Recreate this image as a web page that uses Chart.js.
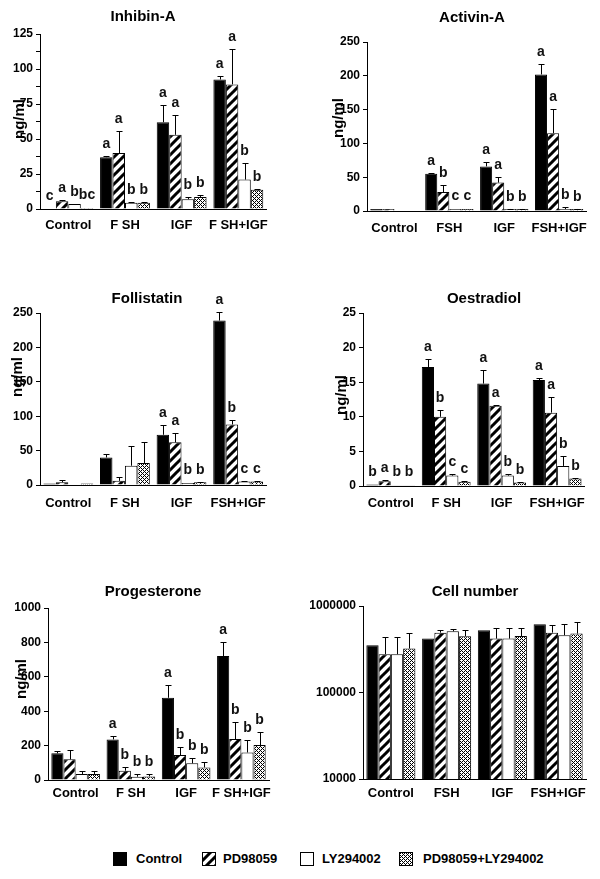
<!DOCTYPE html>
<html>
<head>
<meta charset="utf-8">
<script src="https://cdn.jsdelivr.net/npm/chart.js@4.4.1/dist/chart.umd.min.js"></script>
<style>
body{margin:0;background:#fff;width:600px;height:879px;position:relative;overflow:hidden;font-family:"Liberation Sans",Arial,sans-serif;}
.panel{position:absolute;}
.swatch{position:absolute;top:852px;}
.leg{position:absolute;top:851px;font:bold 13px "Liberation Sans",Arial,sans-serif;color:#000;line-height:16px;}
</style>
</head>
<body>
<div id="charts"></div>
<canvas class="swatch" id="sw0" width="14" height="14" style="left:113px"></canvas><span class="leg" style="left:136px">Control</span>
<canvas class="swatch" id="sw1" width="14" height="14" style="left:202px"></canvas><span class="leg" style="left:223px">PD98059</span>
<canvas class="swatch" id="sw2" width="14" height="14" style="left:300px"></canvas><span class="leg" style="left:322px">LY294002</span>
<canvas class="swatch" id="sw3" width="14" height="14" style="left:399px"></canvas><span class="leg" style="left:423px">PD98059+LY294002</span>
<script>
// series order: Control, PD98059, LY294002, PD98059+LY294002
const treatments = ['Control', 'PD98059', 'LY294002', 'PD98059+LY294002'];

const inhibinGroups = ['Control', 'F SH', 'IGF', 'F SH+IGF'];
const inhibinMeans = [[0, 37, 62, 92.5], [5.5, 40, 53, 89], [3.5, 4.5, 7, 21], [0.7, 4.5, 8.6, 13.8]];
const inhibinErrors = [[0, 1.2, 12.5, 2.4], [1, 16, 14, 25], [0.3, 0.5, 1.6, 12], [0, 0.5, 1.6, 0.5]];
const inhibinLetters = [['c', 'a', 'a', 'a'], ['a', 'a', 'a', 'a'], ['b', 'b', 'b', 'b'], ['bc', 'b', 'b', 'b']];

const activinGroups = ['Control', 'FSH', 'IGF', 'FSH+IGF'];
const activinMeans = [[3, 55, 66, 202], [3, 28, 42, 115], [0, 3, 3, 3], [0, 3, 3, 3]];
const activinErrors = [[0, 1.5, 6, 15], [0, 10, 9, 36], [0, 0, 0.5, 3], [0, 0, 0.5, 0.5]];
const activinLetters = [['', 'a', 'a', 'a'], ['', 'b', 'a', 'a'], ['', 'c', 'b', 'b'], ['', 'c', 'b', 'b']];

const follistatinGroups = ['Control', 'F SH', 'IGF', 'FSH+IGF'];
const follistatinMeans = [[2, 40, 73, 239], [4, 6, 62, 88], [0, 28, 3, 5], [2, 32, 4, 5]];
const follistatinErrors = [[0, 5, 14, 12], [3, 5, 13, 6], [0, 29, 0, 1], [0, 30, 1, 1]];
const follistatinLetters = [['', '', 'a', 'a'], ['', '', 'a', 'b'], ['', '', 'b', 'c'], ['', '', 'b', 'c']];

const oestradiolGroups = ['Control', 'F SH', 'IGF', 'FSH+IGF'];
const oestradiolMeans = [[0.2, 17.2, 14.8, 15.3], [0.7, 10.0, 11.6, 10.6], [0.1, 1.5, 1.5, 2.9], [0.1, 0.6, 0.5, 1.1]];
const oestradiolErrors = [[0, 1.2, 1.9, 0.3], [0.1, 1.0, 0.1, 2.3], [0, 0.2, 0.2, 1.5], [0, 0.1, 0.1, 0.1]];
const oestradiolLetters = [['b', 'a', 'a', 'a'], ['a', 'b', 'a', 'a'], ['b', 'c', 'b', 'b'], ['b', 'c', 'b', 'b']];

const progesteroneGroups = ['Control', 'F SH', 'IGF', 'F SH+IGF'];
const progesteroneMeans = [[155, 236, 478, 721], [120, 54, 145, 238], [35, 19, 97, 160], [35, 21, 73, 203]];
const progesteroneErrors = [[15, 21, 77, 82], [54, 23, 48, 100], [15, 16, 33, 72], [20, 12, 33, 74]];
const progesteroneLetters = [['', 'a', 'a', 'a'], ['', 'b', 'b', 'b'], ['', 'b', 'b', 'b'], ['', 'b', 'b', 'b']];

const cellGroups = ['Control', 'FSH', 'IGF', 'FSH+IGF'];
const cellMeans = [[352000, 420000, 524000, 614000], [277000, 492000, 420000, 492000], [277000, 510000, 420000, 459000], [322000, 447000, 450000, 480000]];
const cellErrors = [[0, 0, 0, 0], [162000, 41000, 137000, 118000], [162000, 38000, 140000, 155000], [170000, 86000, 110000, 174000]];
const cellTicks = [10000, 100000, 1000000];

const FONT = '"Liberation Sans", Arial, sans-serif';

function hatchPattern(ctx) {
    const s = 9;
    const c = document.createElement('canvas');
    c.width = s; c.height = s;
    const g = c.getContext('2d');
    g.fillStyle = '#fff';
    g.fillRect(0, 0, s, s);
    g.strokeStyle = '#000';
    g.lineWidth = 3;
    g.beginPath();
    g.moveTo(-1, s + 1); g.lineTo(s + 1, -1);
    g.moveTo(-1, 1); g.lineTo(1, -1);
    g.moveTo(s - 1, s + 1); g.lineTo(s + 1, s - 1);
    g.stroke();
    return ctx.createPattern(c, 'repeat');
}

function checkPattern(ctx) {
    const c = document.createElement('canvas');
    c.width = 4; c.height = 4;
    const g = c.getContext('2d');
    g.fillStyle = '#fff';
    g.fillRect(0, 0, 4, 4);
    g.fillStyle = '#000';
    for (let y = 0; y < 4; y++) {
        for (let x = 0; x < 4; x++) {
            if ((x + y) % 2 === 0 && !(x === 0 && y === 0) && !(x === 2 && y === 2)) g.fillRect(x, y, 1, 1);
        }
    }
    return ctx.createPattern(c, 'repeat');
}

function fills(ctx) {
    return ['#000', hatchPattern(ctx), '#fff', checkPattern(ctx)];
}

const extras = {
    id: 'extras',
    afterDatasetsDraw(chart, args, o) {
        const ctx = chart.ctx, ys = chart.scales.y;
        ctx.save();
        chart.data.datasets.forEach((ds, i) => {
            chart.getDatasetMeta(i).data.forEach((bar, j) => {
                const err = ds.errors[j];
                let top = bar.y;
                const x = Math.round(bar.x) + 0.5;
                if (err > 0) {
                    top = Math.round(ys.getPixelForValue(ds.data[j] + err)) + 0.5;
                    ctx.strokeStyle = '#000';
                    ctx.lineWidth = 1;
                    ctx.beginPath();
                    ctx.moveTo(x, bar.y);
                    ctx.lineTo(x, top);
                    ctx.moveTo(x - 3, top);
                    ctx.lineTo(x + 3, top);
                    ctx.stroke();
                }
                const letter = ds.letters ? ds.letters[j] : '';
                if (letter) {
                    ctx.fillStyle = '#111';
                    ctx.font = 'bold 14px ' + FONT;
                    ctx.textAlign = 'center';
                    ctx.textBaseline = 'alphabetic';
                    ctx.fillText(letter, bar.x, top - 9);
                }
            });
        });
        ctx.restore();
    },
    afterDraw(chart, args, o) {
        const ctx = chart.ctx;
        ctx.save();
        ctx.fillStyle = '#000';
        ctx.font = 'bold 15px ' + FONT;
        ctx.textAlign = 'center';
        ctx.textBaseline = 'middle';
        ctx.fillText(o.title, o.titleX, o.titleY);
        if (o.yLabel) {
            ctx.translate(o.yLabelX, o.yLabelY);
            ctx.rotate(-Math.PI / 2);
            ctx.font = 'bold 15px ' + FONT;
            ctx.fillText(o.yLabel, 0, 0);
        }
        ctx.restore();
    }
};

const panels = [
    {title: 'Inhibin-A', groups: inhibinGroups, means: inhibinMeans, errors: inhibinErrors, letters: inhibinLetters,
     max: 125, step: 12.5, labelStep: 25, yLabel: 'ng/ml', area: {l: 40, t: 34, r: 268, b: 209}, titlePos: [143, 17], yLabelPos: [20, 119], xPad: 9},
    {title: 'Activin-A', groups: activinGroups, means: activinMeans, errors: activinErrors, letters: activinLetters,
     max: 250, step: 25, labelStep: 50, yLabel: 'ng/ml', area: {l: 367, t: 42, r: 588, b: 211}, titlePos: [472, 18], yLabelPos: [339, 118], xPad: 10},
    {title: 'Follistatin', groups: follistatinGroups, means: follistatinMeans, errors: follistatinErrors, letters: follistatinLetters,
     max: 250, step: 25, labelStep: 50, yLabel: 'ng/ml', area: {l: 40, t: 313, r: 268, b: 485}, titlePos: [147, 299], yLabelPos: [18, 377], xPad: 11},
    {title: 'Oestradiol', groups: oestradiolGroups, means: oestradiolMeans, errors: oestradiolErrors, letters: oestradiolLetters,
     max: 25, step: 2.5, labelStep: 5, yLabel: 'ng/ml', area: {l: 363, t: 313, r: 586, b: 486}, titlePos: [484, 299], yLabelPos: [342, 395], xPad: 10},
    {title: 'Progesterone', groups: progesteroneGroups, means: progesteroneMeans, errors: progesteroneErrors, letters: progesteroneLetters,
     max: 1000, step: 100, labelStep: 200, yLabel: 'ng/ml', area: {l: 48, t: 608, r: 269, b: 780}, titlePos: [153, 592], yLabelPos: [22, 679], xPad: 6},
    {title: 'Cell number', groups: cellGroups, means: cellMeans, errors: cellErrors, letters: null,
     log: true, yLabel: '', area: {l: 363, t: 606, r: 586, b: 779}, titlePos: [475, 592], yLabelPos: [0, 0], xPad: 7}
];

function makePanel(p) {
    const padL = 2, axisW = 58, padT = 40, axisH = 30, padR = 10, padB = 5;
    const left = p.area.l - padL - axisW, top = p.area.t - padT;
    const w = p.area.r - p.area.l + padL + axisW + padR;
    const h = p.area.b - p.area.t + padT + axisH + padB;
    const div = document.createElement('div');
    div.className = 'panel';
    div.style.left = left + 'px';
    div.style.top = top + 'px';
    const canvas = document.createElement('canvas');
    canvas.width = w; canvas.height = h;
    div.appendChild(canvas);
    document.getElementById('charts').appendChild(div);
    const ctx = canvas.getContext('2d');
    const f = fills(ctx);

    const yScale = p.log ? {
        type: 'logarithmic', min: 10000, max: 1000000,
        afterBuildTicks: (s) => { s.ticks = cellTicks.map(v => ({value: v})); },
        ticks: {callback: (v) => String(v)}
    } : {
        type: 'linear', min: 0, max: p.max,
        ticks: {stepSize: p.step, callback: (v) => {
            const k = v / p.labelStep;
            return Math.abs(k - Math.round(k)) < 1e-6 ? String(v) : '';
        }}
    };
    Object.assign(yScale.ticks, {color: '#000', font: {family: FONT, size: 12, weight: 'bold'}, padding: 3});
    yScale.grid = {display: true, drawOnChartArea: false, drawTicks: true, tickLength: 4, color: '#000'};
    yScale.border = {display: true, color: '#000', width: 1};
    yScale.afterFit = (s) => { s.width = axisW; };

    new Chart(ctx, {
        type: 'bar',
        data: {
            labels: p.groups,
            datasets: treatments.map((t, i) => ({
                label: t,
                data: p.means[i],
                errors: p.errors[i],
                letters: p.letters ? p.letters[i] : null,
                backgroundColor: f[i],
                borderColor: '#000',
                borderWidth: 1,
                barPercentage: 1,
                categoryPercentage: 0.88
            }))
        },
        options: {
            responsive: false,
            animation: false,
            layout: {padding: {left: padL, top: padT, right: padR, bottom: padB}},
            scales: {
                x: {
                    grid: {display: false, drawTicks: false},
                    border: {display: true, color: '#000', width: 1},
                    ticks: {color: '#000', font: {family: FONT, size: 13, weight: 'bold'}, padding: p.xPad, maxRotation: 0, autoSkip: false},
                    afterFit: (s) => { s.height = axisH; }
                },
                y: yScale
            },
            plugins: {
                legend: {display: false},
                tooltip: {enabled: false},
                extras: {
                    title: p.title,
                    titleX: p.titlePos[0] - left, titleY: p.titlePos[1] - top,
                    yLabel: p.yLabel,
                    yLabelX: p.yLabelPos[0] - left, yLabelY: p.yLabelPos[1] - top
                }
            }
        },
        plugins: [extras]
    });
}

function drawSwatches() {
    for (let i = 0; i < 4; i++) {
        const c = document.getElementById('sw' + i).getContext('2d');
        c.fillStyle = fills(c)[i];
        c.fillRect(0, 0, 14, 14);
        c.strokeStyle = '#000';
        c.lineWidth = 1;
        c.strokeRect(0.5, 0.5, 13, 13);
    }
}

window.onload = () => {
    panels.forEach(makePanel);
    drawSwatches();
};
</script>
</body>
</html>
